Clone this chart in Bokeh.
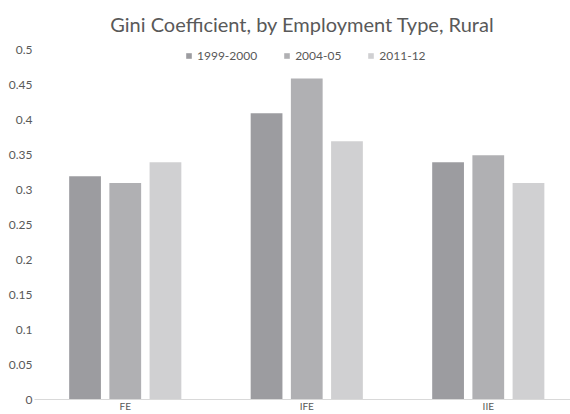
import numpy as np
from bokeh.plotting import figure
from bokeh.models import ColumnDataSource, Range1d, FixedTicker, Legend, LegendItem
from bokeh.transform import dodge
from bokeh.embed import file_html
from bokeh.resources import INLINE

categories = ["FE", "IFE", "IIE"]
series_names = ["1999-2000", "2004-05", "2011-12"]
v_1999 = [0.32, 0.41, 0.34]
v_2004 = [0.31, 0.46, 0.35]
v_2011 = [0.34, 0.37, 0.31]
y_ticks = [0, 0.05, 0.1, 0.15, 0.2, 0.25, 0.3, 0.35, 0.4, 0.45, 0.5]
y_tick_labels = ["0", "0.05", "0.1", "0.15", "0.2", "0.25", "0.3", "0.35", "0.4", "0.45", "0.5"]

colors = ["#9c9ca0", "#b0b0b3", "#d0d0d2"]
FONT = "Lato"
TXT = "#595959"

xc = [i + 0.5 for i in range(len(categories))]
src = ColumnDataSource(dict(x=xc, a=v_1999, b=v_2004, c=v_2011))

p = figure(width=570, height=414, output_backend="svg", toolbar_location=None,
           x_range=Range1d(0, 2.953), y_range=Range1d(0, 0.5143),
           min_border_left=34, min_border_right=0, min_border_top=40, min_border_bottom=14,
           title="Gini Coefficient, by Employment Type, Rural")
p.title.align = "center"
p.title.text_font = FONT
p.title.text_font_size = "20px"
p.title.text_font_style = "normal"
p.title.text_color = TXT

p.outline_line_color = None
p.grid.visible = False
p.background_fill_color = "white"
p.border_fill_color = "white"

offsets = [-0.2215, 0.0, 0.2215]
renderers = []
for col, off, colr in zip(["a", "b", "c"], offsets, colors):
    r = p.vbar(x=dodge("x", off), top=col, width=0.175, source=src,
               fill_color=colr, line_color=None)
    renderers.append(r)

legend = Legend(items=[LegendItem(label=n, renderers=[r]) for n, r in zip(series_names, renderers)],
                orientation="horizontal", location=(151, 336),
                glyph_width=7, glyph_height=7, label_standoff=5, spacing=26,
                padding=0, margin=0, border_line_color=None, background_fill_alpha=0,
                label_text_font=FONT, label_text_font_size="12px", label_text_color=TXT)
p.add_layout(legend, "center")

p.xaxis.ticker = FixedTicker(ticks=xc)
p.xaxis.major_label_overrides = {x: c for x, c in zip(xc, categories)}
p.xaxis.axis_line_color = "#d9d9d9"
p.xaxis.major_tick_line_color = None
p.xaxis.minor_tick_line_color = None
p.xaxis.major_tick_out = 0
p.xaxis.major_tick_in = 0
p.xaxis.minor_tick_out = 0
p.xaxis.major_label_standoff = 0
p.xaxis.major_label_text_font = FONT
p.xaxis.major_label_text_font_size = "10px"
p.xaxis.major_label_text_color = TXT

p.yaxis.ticker = FixedTicker(ticks=y_ticks)
p.yaxis.major_label_overrides = {t: l for t, l in zip(y_ticks, y_tick_labels)}
p.yaxis.axis_line_color = None
p.yaxis.major_tick_line_color = None
p.yaxis.minor_tick_line_color = None
p.yaxis.major_tick_out = 0
p.yaxis.major_tick_in = 0
p.yaxis.minor_tick_out = 0
p.yaxis.major_label_standoff = 2
p.yaxis.major_label_text_font = FONT
p.yaxis.major_label_text_font_size = "12px"
p.yaxis.major_label_text_color = TXT

open("out.html", "w").write(file_html(p, INLINE))
